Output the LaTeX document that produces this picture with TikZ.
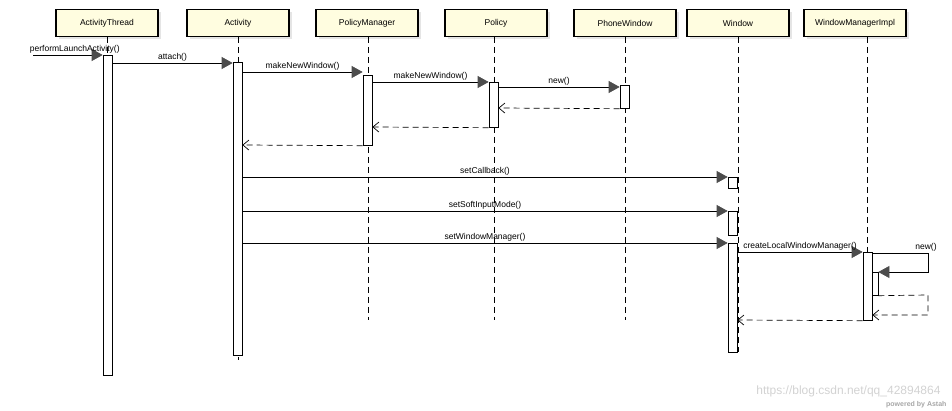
\documentclass[tikz,border=0pt]{standalone}
\usepackage{fontspec}
\setmainfont{Liberation Sans}
\usetikzlibrary{arrows.meta,shadows}
\begin{document}
\begin{tikzpicture}[x=1pt,y=-1pt,
 obj/.style={draw,line width=1.2pt,fill=yellow!12,minimum width=102pt,minimum height=27pt,font=\fontsize{8.5}{10}\selectfont,drop shadow={fill=gray!40,shadow xshift=3pt,shadow yshift=-3pt}},
 life/.style={dash pattern=on 6pt off 4pt,line width=0.7pt},
 act/.style={draw,fill=white,line width=0.7pt},
 msg/.style={line width=0.7pt,-{Triangle[length=11pt,width=12pt,fill=gray!60!black,color=gray!60!black]}},
 ret/.style={line width=0.7pt,dash pattern=on 6pt off 4pt,-{Straight Barb[length=6pt,width=10pt]}},
 lbl/.style={font=\fontsize{8.5}{10}\selectfont,inner sep=1pt,above}]
\useasboundingbox (0,0) rectangle (952,411);
\node[obj] (at) at (107,23) {ActivityThread};
\node[obj] (ac) at (238,23) {Activity};
\node[obj] (pm) at (367,23) {PolicyManager};
\node[obj] (po) at (496,23) {Policy};
\node[obj] (pw) at (625,23) {PhoneWindow};
\node[obj] (wi) at (738,23) {Window};
\node[obj] (wm) at (855,23) {WindowManagerImpl};
\draw[life] (107,37) -- (107,375);
\draw[life] (238,37) -- (238,360);
\draw[life] (368,37) -- (368,320);
\draw[life] (494,37) -- (494,320);
\draw[life] (625,37) -- (625,320);
\draw[life] (738,37) -- (738,352);
\draw[life] (867,37) -- (867,320);
% activations
\node[act,minimum width=9pt,minimum height=320pt,inner sep=0,anchor=north] (aAT) at (107.5,55) {};
\node[act,minimum width=9pt,minimum height=293pt,inner sep=0,anchor=north] (aAC) at (237.5,62) {};
\node[act,minimum width=9pt,minimum height=70pt,inner sep=0,anchor=north] (aPM) at (367.5,75) {};
\node[act,minimum width=9pt,minimum height=45pt,inner sep=0,anchor=north] (aPO) at (493.5,82) {};
\node[act,minimum width=9pt,minimum height=23pt,inner sep=0,anchor=north] (aPW) at (624.5,85) {};
\node[act,minimum width=9pt,minimum height=11pt,inner sep=0,anchor=north] (aW1) at (732.5,177) {};
\node[act,minimum width=9pt,minimum height=24pt,inner sep=0,anchor=north] (aW2) at (732.5,211) {};
\node[act,minimum width=9pt,minimum height=109pt,inner sep=0,anchor=north] (aW3) at (732.5,243) {};
\node[act,minimum width=9pt,minimum height=68pt,inner sep=0,anchor=north] (aWM) at (867.5,252) {};
\node[act,minimum width=6pt,minimum height=23pt,inner sep=0,anchor=north] (aWM2) at (875,272) {};
\coordinate (start) at (33,55);
% messages
\draw[msg] (start) -- node[lbl,pos=0.6]{performLaunchActivity()} (aAT.north west);
\draw[msg] (aAT.east |- 0,63) -- node[lbl]{attach()} (aAC.west |- 0,63);
\draw[msg] (aAC.east |- 0,72) -- node[lbl]{makeNewWindow()} (aPM.west |- 0,72);
\draw[msg] (aPM.east |- 0,82) -- node[lbl]{makeNewWindow()} (aPO.west |- 0,82);
\draw[msg] (aPO.east |- 0,87) -- node[lbl]{new()} (aPW.west |- 0,87);
\draw[ret] (aPW.south west) -- (aPO.east |- 0,108);
\draw[ret] (aPO.south west) -- (aPM.east |- 0,127);
\draw[ret] (aPM.south west) -- (aAC.east |- 0,145);
\draw[msg] (aAC.east |- 0,177) -- node[lbl]{setCallback()} (aW1.north west);
\draw[msg] (aAC.east |- 0,211) -- node[lbl]{setSoftInputMode()} (aW2.north west);
\draw[msg] (aAC.east |- 0,243) -- node[lbl]{setWindowManager()} (aW3.north west);
\draw[msg] (aW3.east |- 0,252) -- node[lbl]{createLocalWindowManager()} (aWM.north west);
\draw[msg] (aWM.east |- 0,253) -- (928,253) node[lbl,anchor=south west,xshift=-14pt]{new()} -- (928,272) -- (aWM2.north east);
\draw[ret] (aWM2.south east) -- (928,295) -- (928,315) -- (aWM.east |- 0,315);
\draw[ret] (aWM.south west) -- (aW3.east |- 0,320);
\node[font=\fontsize{12}{14}\selectfont,text=gray!35,anchor=south east] (wm1) at (944,401) {https://blog.csdn.net/qq\_42894864};
\node[font=\bfseries\fontsize{7}{8}\selectfont,text=gray!70,anchor=south east] (wm2) at (950,411) {powered by Astah};
\end{tikzpicture}
\end{document}
